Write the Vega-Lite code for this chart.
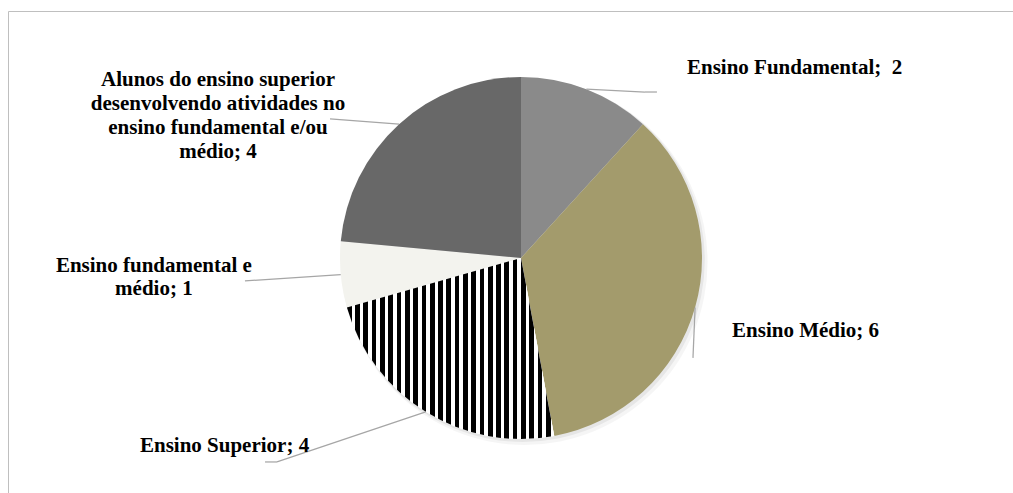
{
  "$schema": "https://vega.github.io/schema/vega-lite/v6.json",
  "width": 1013,
  "height": 493,
  "autosize": {"type": "fit", "contains": "padding"},
  "padding": {"left": 8, "top": 11, "right": 0, "bottom": 0},
  "background": "#ffffff",
  "config": {
    "view": {"stroke": null},
    "axis": {"domain": true, "domainColor": "#bfbfbf", "domainWidth": 1, "ticks": false, "labels": false, "grid": false},
    "text": {"font": "Liberation Serif", "fontWeight": "bold", "fontSize": 21, "color": "#000000", "lineHeight": 24}
  },
  "data": {
    "values": [
      {"category": "Ensino Fundamental", "value": 2},
      {"category": "Ensino Médio", "value": 6},
      {"category": "Ensino Superior", "value": 4},
      {"category": "Ensino fundamental e médio", "value": 1},
      {"category": "Alunos do ensino superior desenvolvendo atividades no ensino fundamental e/ou médio", "value": 4}
    ]
  },
  "transform": [
    {"window": [{"op": "sum", "field": "value", "as": "cum"}, {"op": "row_number", "as": "idx"}], "frame": [null, 0]},
    {"joinaggregate": [{"op": "sum", "field": "value", "as": "total"}]},
    {"calculate": "2 * PI * (datum.cum - datum.value) / datum.total", "as": "a0"},
    {"calculate": "2 * PI * datum.cum / datum.total", "as": "a1"},
    {"calculate": "(datum.a0 + datum.a1) / 2", "as": "am"},
    {"calculate": "sin(datum.am)", "as": "ex"},
    {"calculate": "cos(datum.am)", "as": "ey"}
  ],
  "layer": [
    {
      "transform": [{"filter": "datum.idx == 1"}],
      "mark": {"type": "arc", "radius": 183, "fill": "#000000", "opacity": 0.04},
      "encoding": {
        "theta": {"value": 0},
        "theta2": {"value": 6.2832},
        "x": {"datum": 0.02, "type": "quantitative", "scale": {"domain": [-2.834, 2.718], "nice": false, "zero": false}, "axis": {"orient": "top", "title": null}},
        "y": {"datum": -0.022, "type": "quantitative", "scale": {"domain": [-1.2985, 1.3646], "nice": false, "zero": false}, "axis": {"orient": "left", "title": null}}
      }
    },
    {
      "transform": [{"filter": "datum.idx == 1"}],
      "mark": {"type": "arc", "radius": 182, "fill": "#000000", "opacity": 0.06},
      "encoding": {
        "theta": {"value": 0},
        "theta2": {"value": 6.2832},
        "x": {"datum": 0.01, "type": "quantitative", "scale": {"domain": [-2.834, 2.718], "nice": false, "zero": false}, "axis": {"orient": "top", "title": null}},
        "y": {"datum": -0.011, "type": "quantitative", "scale": {"domain": [-1.2985, 1.3646], "nice": false, "zero": false}, "axis": {"orient": "left", "title": null}}
      }
    },
    {
      "mark": {"type": "arc", "radius": 181},
      "encoding": {
        "theta": {"field": "a0", "type": "quantitative", "scale": null, "stack": null},
        "theta2": {"field": "a1"},
        "color": {
          "field": "category",
          "type": "nominal",
          "scale": {
            "domain": ["Ensino Fundamental", "Ensino Médio", "Ensino Superior", "Ensino fundamental e médio", "Alunos do ensino superior desenvolvendo atividades no ensino fundamental e/ou médio"],
            "range": ["#8a8a8a", "#a39b6c", "#ffffff", "#f3f3ee", "#686868"]
          },
          "legend": null
        },
        "x": {"datum": 0, "type": "quantitative", "scale": {"domain": [-2.834, 2.718], "nice": false, "zero": false}, "axis": {"orient": "top", "title": null}},
        "y": {"datum": 0, "type": "quantitative", "scale": {"domain": [-1.2985, 1.3646], "nice": false, "zero": false}, "axis": {"orient": "left", "title": null}}
      }
    },
    {
      "transform": [{"filter": "datum.category == 'Ensino Superior'"}],
      "mark": {
        "type": "arc",
        "radius": 181,
        "fill": {
          "gradient": "linear", "x1": 0, "y1": 0, "x2": 1, "y2": 0,
          "stops": [
            {"offset": 0, "color": "#000000"}, {"offset": 0.0225, "color": "#000000"}, {"offset": 0.0225, "color": "#ffffff"}, {"offset": 0.04, "color": "#ffffff"},
            {"offset": 0.04, "color": "#000000"}, {"offset": 0.0625, "color": "#000000"}, {"offset": 0.0625, "color": "#ffffff"}, {"offset": 0.08, "color": "#ffffff"},
            {"offset": 0.08, "color": "#000000"}, {"offset": 0.1025, "color": "#000000"}, {"offset": 0.1025, "color": "#ffffff"}, {"offset": 0.12, "color": "#ffffff"},
            {"offset": 0.12, "color": "#000000"}, {"offset": 0.1425, "color": "#000000"}, {"offset": 0.1425, "color": "#ffffff"}, {"offset": 0.16, "color": "#ffffff"},
            {"offset": 0.16, "color": "#000000"}, {"offset": 0.1825, "color": "#000000"}, {"offset": 0.1825, "color": "#ffffff"}, {"offset": 0.2, "color": "#ffffff"},
            {"offset": 0.2, "color": "#000000"}, {"offset": 0.2225, "color": "#000000"}, {"offset": 0.2225, "color": "#ffffff"}, {"offset": 0.24, "color": "#ffffff"},
            {"offset": 0.24, "color": "#000000"}, {"offset": 0.2625, "color": "#000000"}, {"offset": 0.2625, "color": "#ffffff"}, {"offset": 0.28, "color": "#ffffff"},
            {"offset": 0.28, "color": "#000000"}, {"offset": 0.3025, "color": "#000000"}, {"offset": 0.3025, "color": "#ffffff"}, {"offset": 0.32, "color": "#ffffff"},
            {"offset": 0.32, "color": "#000000"}, {"offset": 0.3425, "color": "#000000"}, {"offset": 0.3425, "color": "#ffffff"}, {"offset": 0.36, "color": "#ffffff"},
            {"offset": 0.36, "color": "#000000"}, {"offset": 0.3825, "color": "#000000"}, {"offset": 0.3825, "color": "#ffffff"}, {"offset": 0.4, "color": "#ffffff"},
            {"offset": 0.4, "color": "#000000"}, {"offset": 0.4225, "color": "#000000"}, {"offset": 0.4225, "color": "#ffffff"}, {"offset": 0.44, "color": "#ffffff"},
            {"offset": 0.44, "color": "#000000"}, {"offset": 0.4625, "color": "#000000"}, {"offset": 0.4625, "color": "#ffffff"}, {"offset": 0.48, "color": "#ffffff"},
            {"offset": 0.48, "color": "#000000"}, {"offset": 0.5025, "color": "#000000"}, {"offset": 0.5025, "color": "#ffffff"}, {"offset": 0.52, "color": "#ffffff"},
            {"offset": 0.52, "color": "#000000"}, {"offset": 0.5425, "color": "#000000"}, {"offset": 0.5425, "color": "#ffffff"}, {"offset": 0.56, "color": "#ffffff"},
            {"offset": 0.56, "color": "#000000"}, {"offset": 0.5825, "color": "#000000"}, {"offset": 0.5825, "color": "#ffffff"}, {"offset": 0.6, "color": "#ffffff"},
            {"offset": 0.6, "color": "#000000"}, {"offset": 0.6225, "color": "#000000"}, {"offset": 0.6225, "color": "#ffffff"}, {"offset": 0.64, "color": "#ffffff"},
            {"offset": 0.64, "color": "#000000"}, {"offset": 0.6625, "color": "#000000"}, {"offset": 0.6625, "color": "#ffffff"}, {"offset": 0.68, "color": "#ffffff"},
            {"offset": 0.68, "color": "#000000"}, {"offset": 0.7025, "color": "#000000"}, {"offset": 0.7025, "color": "#ffffff"}, {"offset": 0.72, "color": "#ffffff"},
            {"offset": 0.72, "color": "#000000"}, {"offset": 0.7425, "color": "#000000"}, {"offset": 0.7425, "color": "#ffffff"}, {"offset": 0.76, "color": "#ffffff"},
            {"offset": 0.76, "color": "#000000"}, {"offset": 0.7825, "color": "#000000"}, {"offset": 0.7825, "color": "#ffffff"}, {"offset": 0.8, "color": "#ffffff"},
            {"offset": 0.8, "color": "#000000"}, {"offset": 0.8225, "color": "#000000"}, {"offset": 0.8225, "color": "#ffffff"}, {"offset": 0.84, "color": "#ffffff"},
            {"offset": 0.84, "color": "#000000"}, {"offset": 0.8625, "color": "#000000"}, {"offset": 0.8625, "color": "#ffffff"}, {"offset": 0.88, "color": "#ffffff"},
            {"offset": 0.88, "color": "#000000"}, {"offset": 0.9025, "color": "#000000"}, {"offset": 0.9025, "color": "#ffffff"}, {"offset": 0.92, "color": "#ffffff"},
            {"offset": 0.92, "color": "#000000"}, {"offset": 0.9425, "color": "#000000"}, {"offset": 0.9425, "color": "#ffffff"}, {"offset": 0.96, "color": "#ffffff"},
            {"offset": 0.96, "color": "#000000"}, {"offset": 0.9825, "color": "#000000"}, {"offset": 0.9825, "color": "#ffffff"}, {"offset": 1, "color": "#ffffff"}
          ]
        }
      },
      "encoding": {
        "theta": {"field": "a0", "type": "quantitative", "scale": null, "stack": null},
        "theta2": {"field": "a1"},
        "x": {"datum": 0, "type": "quantitative", "scale": {"domain": [-2.834, 2.718], "nice": false, "zero": false}, "axis": {"orient": "top", "title": null}},
        "y": {"datum": 0, "type": "quantitative", "scale": {"domain": [-1.2985, 1.3646], "nice": false, "zero": false}, "axis": {"orient": "left", "title": null}}
      }
    },
    {
      "transform": [
        {"filter": "datum.category == 'Ensino Fundamental'"},
        {"calculate": "datum.category + ';\u00a0 ' + datum.value", "as": "label"}
      ],
      "layer": [
        {
          "mark": {"type": "rule", "color": "#a6a6a6", "strokeWidth": 1.25},
          "encoding": {
            "x": {"field": "ex", "type": "quantitative", "scale": {"domain": [-2.834, 2.718], "nice": false, "zero": false}, "axis": {"orient": "top", "title": null}},
            "y": {"field": "ey", "type": "quantitative", "scale": {"domain": [-1.2985, 1.3646], "nice": false, "zero": false}, "axis": {"orient": "left", "title": null}},
            "x2": {"datum": 0.685},
            "y2": {"datum": 0.917}
          }
        },
        {
          "mark": {"type": "rule", "color": "#a6a6a6", "strokeWidth": 1.25},
          "encoding": {
            "x": {"datum": 0.685, "type": "quantitative", "scale": {"domain": [-2.834, 2.718], "nice": false, "zero": false}, "axis": {"orient": "top", "title": null}},
            "y": {"datum": 0.917, "type": "quantitative", "scale": {"domain": [-1.2985, 1.3646], "nice": false, "zero": false}, "axis": {"orient": "left", "title": null}},
            "x2": {"datum": 0.751},
            "y2": {"datum": 0.917}
          }
        },
        {
          "mark": {"type": "text", "align": "left", "baseline": "alphabetic", "font": "Liberation Serif", "fontWeight": "bold", "fontSize": 21},
          "encoding": {
            "text": {"field": "label"},
            "x": {"datum": 0.917, "type": "quantitative", "scale": {"domain": [-2.834, 2.718], "nice": false, "zero": false}, "axis": {"orient": "top", "title": null}},
            "y": {"datum": 1.017, "type": "quantitative", "scale": {"domain": [-1.2985, 1.3646], "nice": false, "zero": false}, "axis": {"orient": "left", "title": null}}
          }
        }
      ]
    },
    {
      "transform": [
        {"filter": "datum.category == 'Ensino Médio'"},
        {"calculate": "datum.category + '; ' + datum.value", "as": "label"}
      ],
      "layer": [
        {
          "mark": {"type": "rule", "color": "#a6a6a6", "strokeWidth": 1.25},
          "encoding": {
            "x": {"field": "ex", "type": "quantitative", "scale": {"domain": [-2.834, 2.718], "nice": false, "zero": false}, "axis": {"orient": "top", "title": null}},
            "y": {"field": "ey", "type": "quantitative", "scale": {"domain": [-1.2985, 1.3646], "nice": false, "zero": false}, "axis": {"orient": "left", "title": null}},
            "x2": {"datum": 0.95},
            "y2": {"datum": -0.552}
          }
        },
        {
          "mark": {"type": "text", "align": "left", "baseline": "alphabetic", "font": "Liberation Serif", "fontWeight": "bold", "fontSize": 21},
          "encoding": {
            "text": {"field": "label"},
            "x": {"datum": 1.166, "type": "quantitative", "scale": {"domain": [-2.834, 2.718], "nice": false, "zero": false}, "axis": {"orient": "top", "title": null}},
            "y": {"datum": -0.436, "type": "quantitative", "scale": {"domain": [-1.2985, 1.3646], "nice": false, "zero": false}, "axis": {"orient": "left", "title": null}}
          }
        }
      ]
    },
    {
      "transform": [
        {"filter": "datum.category == 'Ensino Superior'"},
        {"calculate": "datum.category + '; ' + datum.value", "as": "label"}
      ],
      "layer": [
        {
          "mark": {"type": "rule", "color": "#a6a6a6", "strokeWidth": 1.25},
          "encoding": {
            "x": {"field": "ex", "type": "quantitative", "scale": {"domain": [-2.834, 2.718], "nice": false, "zero": false}, "axis": {"orient": "top", "title": null}},
            "y": {"field": "ey", "type": "quantitative", "scale": {"domain": [-1.2985, 1.3646], "nice": false, "zero": false}, "axis": {"orient": "left", "title": null}},
            "x2": {"datum": -1.348},
            "y2": {"datum": -1.127}
          }
        },
        {
          "mark": {"type": "rule", "color": "#a6a6a6", "strokeWidth": 1.25},
          "encoding": {
            "x": {"datum": -1.348, "type": "quantitative", "scale": {"domain": [-2.834, 2.718], "nice": false, "zero": false}, "axis": {"orient": "top", "title": null}},
            "y": {"datum": -1.127, "type": "quantitative", "scale": {"domain": [-1.2985, 1.3646], "nice": false, "zero": false}, "axis": {"orient": "left", "title": null}},
            "x2": {"datum": -1.414},
            "y2": {"datum": -1.127}
          }
        },
        {
          "mark": {"type": "text", "align": "left", "baseline": "alphabetic", "font": "Liberation Serif", "fontWeight": "bold", "fontSize": 21},
          "encoding": {
            "text": {"field": "label"},
            "x": {"datum": -2.105, "type": "quantitative", "scale": {"domain": [-2.834, 2.718], "nice": false, "zero": false}, "axis": {"orient": "top", "title": null}},
            "y": {"datum": -1.072, "type": "quantitative", "scale": {"domain": [-1.2985, 1.3646], "nice": false, "zero": false}, "axis": {"orient": "left", "title": null}}
          }
        }
      ]
    },
    {
      "transform": [
        {"filter": "datum.category == 'Ensino fundamental e médio'"},
        {"calculate": "['Ensino fundamental e', 'médio; ' + datum.value]", "as": "label"}
      ],
      "layer": [
        {
          "mark": {"type": "rule", "color": "#a6a6a6", "strokeWidth": 1.25},
          "encoding": {
            "x": {"field": "ex", "type": "quantitative", "scale": {"domain": [-2.834, 2.718], "nice": false, "zero": false}, "axis": {"orient": "top", "title": null}},
            "y": {"field": "ey", "type": "quantitative", "scale": {"domain": [-1.2985, 1.3646], "nice": false, "zero": false}, "axis": {"orient": "left", "title": null}},
            "x2": {"datum": -1.525},
            "y2": {"datum": -0.127}
          }
        },
        {
          "mark": {"type": "text", "align": "center", "baseline": "alphabetic", "font": "Liberation Serif", "fontWeight": "bold", "fontSize": 21, "lineHeight": 23},
          "encoding": {
            "text": {"field": "label"},
            "x": {"datum": -2.028, "type": "quantitative", "scale": {"domain": [-2.834, 2.718], "nice": false, "zero": false}, "axis": {"orient": "top", "title": null}},
            "y": {"datum": -0.077, "type": "quantitative", "scale": {"domain": [-1.2985, 1.3646], "nice": false, "zero": false}, "axis": {"orient": "left", "title": null}}
          }
        }
      ]
    },
    {
      "transform": [
        {"filter": "datum.idx == 5"},
        {"calculate": "['Alunos do ensino superior', 'desenvolvendo atividades no', 'ensino fundamental e/ou', 'médio; ' + datum.value]", "as": "label"}
      ],
      "layer": [
        {
          "mark": {"type": "rule", "color": "#a6a6a6", "strokeWidth": 1.25},
          "encoding": {
            "x": {"field": "ex", "type": "quantitative", "scale": {"domain": [-2.834, 2.718], "nice": false, "zero": false}, "axis": {"orient": "top", "title": null}},
            "y": {"field": "ey", "type": "quantitative", "scale": {"domain": [-1.2985, 1.3646], "nice": false, "zero": false}, "axis": {"orient": "left", "title": null}},
            "x2": {"datum": -1.055},
            "y2": {"datum": 0.768}
          }
        },
        {
          "mark": {"type": "text", "align": "center", "baseline": "alphabetic", "font": "Liberation Serif", "fontWeight": "bold", "fontSize": 21, "lineHeight": 24},
          "encoding": {
            "text": {"field": "label"},
            "x": {"datum": -1.674, "type": "quantitative", "scale": {"domain": [-2.834, 2.718], "nice": false, "zero": false}, "axis": {"orient": "top", "title": null}},
            "y": {"datum": 0.95, "type": "quantitative", "scale": {"domain": [-1.2985, 1.3646], "nice": false, "zero": false}, "axis": {"orient": "left", "title": null}}
          }
        }
      ]
    }
  ]
}
